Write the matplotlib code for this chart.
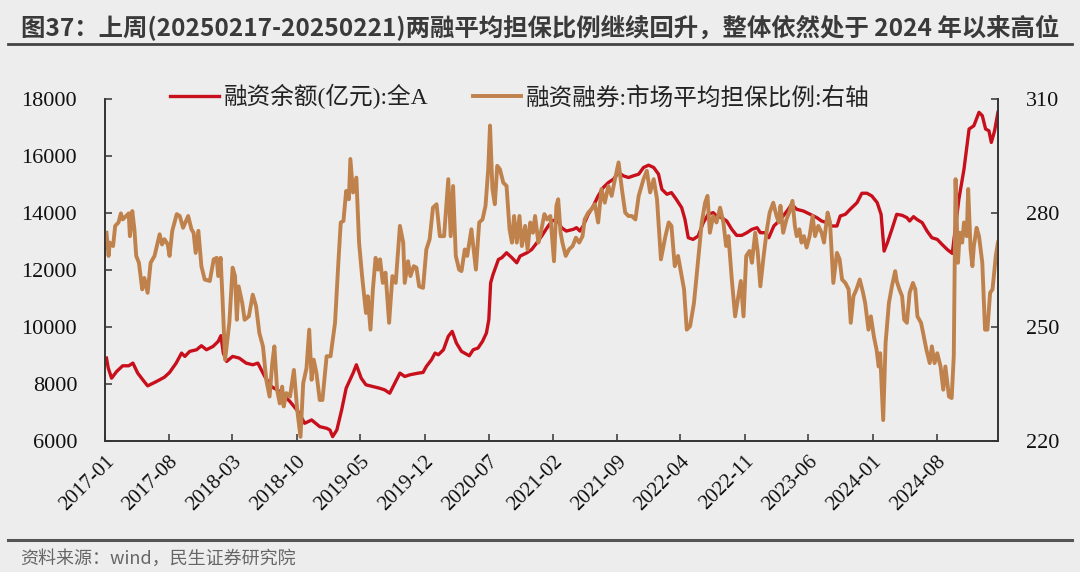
import pandas as pd
import matplotlib
matplotlib.use('Agg')
import matplotlib.pyplot as plt
import matplotlib.dates as mdates
from matplotlib.lines import Line2D

## data
margin_dates = [
    '2017-01-06', '2017-01-12', '2017-01-23', '2017-02-09', '2017-03-01', '2017-03-21', '2017-04-04',
    '2017-04-20', '2017-05-07', '2017-05-23', '2017-06-15', '2017-07-02', '2017-07-18', '2017-08-04',
    '2017-08-26', '2017-09-13', '2017-09-24', '2017-10-10', '2017-11-02', '2017-11-18', '2017-12-05',
    '2017-12-27', '2018-01-13', '2018-01-22', '2018-01-30', '2018-02-10', '2018-03-02', '2018-03-24',
    '2018-04-16', '2018-05-08', '2018-05-25', '2018-06-17', '2018-07-09', '2018-08-06', '2018-09-09',
    '2018-10-06', '2018-10-28', '2018-11-20', '2018-12-17', '2019-01-09', '2019-01-20', '2019-01-29',
    '2019-02-12', '2019-02-28', '2019-03-15', '2019-04-07', '2019-04-18', '2019-05-04', '2019-05-20',
    '2019-06-12', '2019-07-04', '2019-07-21', '2019-08-07', '2019-08-24', '2019-09-10', '2019-09-26',
    '2019-10-13', '2019-11-10', '2019-11-26', '2019-12-07', '2019-12-24', '2020-01-05', '2020-01-16',
    '2020-02-02', '2020-02-18', '2020-03-02', '2020-03-16', '2020-04-02', '2020-04-28', '2020-05-11',
    '2020-05-27', '2020-06-11', '2020-06-24', '2020-07-02', '2020-07-08', '2020-07-16', '2020-08-03',
    '2020-08-14', '2020-08-30', '2020-09-17', '2020-10-03', '2020-10-14', '2020-11-06', '2020-11-22',
    '2020-12-09', '2020-12-25', '2021-01-12', '2021-01-28', '2021-02-14', '2021-03-01', '2021-03-17',
    '2021-04-09', '2021-04-20', '2021-05-01', '2021-05-12', '2021-05-29', '2021-06-15', '2021-07-01',
    '2021-07-18', '2021-08-04', '2021-08-21', '2021-09-07', '2021-09-23', '2021-10-10', '2021-10-26',
    '2021-11-13', '2021-11-29', '2021-12-16', '2022-01-02', '2022-01-18', '2022-01-29', '2022-02-15',
    '2022-03-02', '2022-03-18', '2022-04-05', '2022-04-16', '2022-04-27', '2022-05-13', '2022-05-30',
    '2022-06-16', '2022-07-02', '2022-07-19', '2022-07-30', '2022-08-16', '2022-09-02', '2022-09-19',
    '2022-10-05', '2022-10-22', '2022-11-08', '2022-11-25', '2022-12-12', '2022-12-23', '2023-01-09',
    '2023-01-20', '2023-02-06', '2023-02-23', '2023-03-09', '2023-03-26', '2023-04-06', '2023-04-23',
    '2023-05-15', '2023-06-07', '2023-06-29', '2023-07-15', '2023-08-01', '2023-08-18', '2023-09-04',
    '2023-09-15', '2023-10-02', '2023-10-18', '2023-11-10', '2023-11-26', '2023-12-13', '2023-12-29',
    '2024-01-16', '2024-01-29', '2024-02-08', '2024-02-19', '2024-03-05', '2024-03-21', '2024-04-08',
    '2024-04-24', '2024-05-03', '2024-05-16', '2024-05-27', '2024-06-14', '2024-06-30', '2024-07-16',
    '2024-08-03', '2024-08-19', '2024-09-05', '2024-09-22', '2024-10-03', '2024-10-14', '2024-10-31',
    '2024-11-17', '2024-12-03', '2024-12-20', '2024-12-31', '2025-01-11', '2025-01-22', '2025-01-30',
    '2025-02-10', '2025-02-21']
margin_vals = [
    8909, 8557, 8205, 8440, 8639, 8639, 8733,
    8382, 8147, 7935, 8053, 8147, 8240, 8405,
    8733, 9085, 8968, 9144, 9202, 9343, 9202,
    9320, 9496, 9695, 9085, 8792, 8968, 8909,
    8733, 8674, 8733, 8264, 7912, 7736, 7384,
    7032, 6622, 6739, 6504, 6446, 6387, 6152,
    6387, 7091, 7853, 8382, 8674, 8205, 7971,
    7912, 7853, 7795, 7677, 8029, 8382, 8264,
    8323, 8382, 8405, 8616, 8850, 9085, 9026,
    9202, 9672, 9847, 9437, 9144, 8991, 9202,
    9261, 9496, 9789, 10258, 11548, 11842, 12369,
    12428, 12604, 12428, 12252, 12487, 12604, 12721,
    12956, 13191, 13484, 13718, 13777, 13484, 13366,
    13425, 13484, 13366, 13543, 13953, 14246, 14598,
    14891, 15067, 15185, 15419, 15302, 15243, 15302,
    15361, 15595, 15677, 15595, 15361, 14833, 14657,
    14715, 14481, 14188, 13777, 13132, 13073, 13191,
    13660, 13953, 14012, 13894, 13836, 13718, 13425,
    13214, 13214, 13308, 13425, 13484, 13308, 13308,
    13132, 13543, 13718, 13894, 14129, 14305, 14129,
    14070, 13953, 13836, 13718, 13660, 13543, 13543,
    13894, 13953, 14129, 14364, 14692, 14692, 14598,
    14364, 13953, 12663, 12956, 13425, 13953, 13918,
    13836, 13718, 13871, 13777, 13660, 13366, 13132,
    13073, 12897, 12721, 12581, 13543, 14481, 15536,
    16944, 17061, 17530, 17413, 16944, 16885, 16475,
    16885, 17530]

ratio_dates = [
    '2017-01-06', '2017-01-13', '2017-01-17', '2017-01-28', '2017-02-04', '2017-02-15', '2017-02-23',
    '2017-03-01', '2017-03-12', '2017-03-21', '2017-03-25', '2017-04-02', '2017-04-09', '2017-04-15',
    '2017-04-24', '2017-05-05', '2017-05-12', '2017-05-23', '2017-06-02', '2017-06-15', '2017-07-02',
    '2017-07-10', '2017-07-18', '2017-07-29', '2017-08-04', '2017-08-13', '2017-08-28', '2017-09-07',
    '2017-09-18', '2017-10-05', '2017-10-16', '2017-10-23', '2017-10-30', '2017-11-08', '2017-11-18',
    '2017-11-29', '2017-12-16', '2017-12-29', '2018-01-08', '2018-01-13', '2018-01-21', '2018-01-27',
    '2018-02-05', '2018-02-19', '2018-03-02', '2018-03-10', '2018-03-16', '2018-03-22', '2018-04-03',
    '2018-04-11', '2018-04-25', '2018-05-08', '2018-05-19', '2018-05-30', '2018-06-11', '2018-06-22',
    '2018-07-03', '2018-07-12', '2018-07-19', '2018-07-28', '2018-08-06', '2018-08-14', '2018-08-19',
    '2018-08-28', '2018-09-09', '2018-09-22', '2018-10-03', '2018-10-14', '2018-10-23', '2018-11-03',
    '2018-11-12', '2018-11-20', '2018-11-27', '2018-12-06', '2018-12-17', '2018-12-26', '2019-01-09',
    '2019-01-22', '2019-02-06', '2019-02-17', '2019-02-25', '2019-03-06', '2019-03-15', '2019-03-24',
    '2019-03-29', '2019-04-07', '2019-04-18', '2019-04-27', '2019-05-07', '2019-05-20', '2019-05-26',
    '2019-06-04', '2019-06-12', '2019-06-21', '2019-06-29', '2019-07-06', '2019-07-15', '2019-07-24',
    '2019-08-05', '2019-08-16', '2019-08-27', '2019-09-10', '2019-09-21', '2019-09-26', '2019-10-07',
    '2019-10-15', '2019-10-26', '2019-11-04', '2019-11-13', '2019-11-26', '2019-12-07', '2019-12-18',
    '2019-12-29', '2020-01-10', '2020-01-21', '2020-02-04', '2020-02-18', '2020-02-26', '2020-03-05',
    '2020-03-14', '2020-03-25', '2020-04-02', '2020-04-13', '2020-04-21', '2020-05-05', '2020-05-20',
    '2020-05-31', '2020-06-11', '2020-06-21', '2020-06-30', '2020-07-06', '2020-07-14', '2020-07-22',
    '2020-07-30', '2020-08-08', '2020-08-19', '2020-08-30', '2020-09-09', '2020-09-17', '2020-09-24',
    '2020-10-03', '2020-10-12', '2020-10-20', '2020-10-31', '2020-11-08', '2020-11-17', '2020-11-26',
    '2020-12-03', '2020-12-14', '2020-12-22', '2021-01-03', '2021-01-12', '2021-01-23', '2021-02-04',
    '2021-02-12', '2021-02-18', '2021-02-26', '2021-03-04', '2021-03-15', '2021-03-26', '2021-04-07',
    '2021-04-18', '2021-04-29', '2021-05-10', '2021-05-17', '2021-05-29', '2021-06-09', '2021-06-20',
    '2021-07-01', '2021-07-12', '2021-07-23', '2021-08-04', '2021-08-15', '2021-08-26', '2021-09-07',
    '2021-09-18', '2021-09-29', '2021-10-10', '2021-10-21', '2021-11-02', '2021-11-13', '2021-11-29',
    '2021-12-10', '2021-12-21', '2022-01-02', '2022-01-13', '2022-01-26', '2022-02-10', '2022-02-21',
    '2022-03-02', '2022-03-13', '2022-03-24', '2022-04-05', '2022-04-13', '2022-04-22', '2022-05-03',
    '2022-05-16', '2022-05-30', '2022-06-11', '2022-06-22', '2022-06-30', '2022-07-08', '2022-07-19',
    '2022-07-30', '2022-08-11', '2022-08-22', '2022-08-31', '2022-09-08', '2022-09-19', '2022-09-30',
    '2022-10-11', '2022-10-19', '2022-10-28', '2022-11-06', '2022-11-17', '2022-11-25', '2022-12-06',
    '2022-12-14', '2022-12-23', '2023-01-03', '2023-01-14', '2023-01-23', '2023-02-04', '2023-02-15',
    '2023-02-23', '2023-02-28', '2023-03-09', '2023-03-20', '2023-03-29', '2023-04-09', '2023-04-17',
    '2023-04-23', '2023-05-02', '2023-05-09', '2023-05-17', '2023-05-26', '2023-06-05', '2023-06-15',
    '2023-06-23', '2023-07-04', '2023-07-15', '2023-07-23', '2023-08-04', '2023-08-12', '2023-08-23',
    '2023-09-04', '2023-09-13', '2023-09-21', '2023-10-02', '2023-10-13', '2023-10-20', '2023-10-29',
    '2023-11-08', '2023-11-19', '2023-11-30', '2023-12-07', '2023-12-18', '2023-12-26', '2024-01-05',
    '2024-01-14', '2024-01-21', '2024-01-26', '2024-02-05', '2024-02-13', '2024-02-24', '2024-03-05',
    '2024-03-16', '2024-03-21', '2024-03-30', '2024-04-08', '2024-04-15', '2024-04-24', '2024-05-03',
    '2024-05-14', '2024-05-22', '2024-05-29', '2024-06-10', '2024-06-17', '2024-06-28', '2024-07-09',
    '2024-07-16', '2024-07-25', '2024-08-03', '2024-08-14', '2024-08-23', '2024-08-30', '2024-09-11',
    '2024-09-20', '2024-09-27', '2024-10-03', '2024-10-11', '2024-10-17', '2024-10-25', '2024-10-31',
    '2024-11-09', '2024-11-14', '2024-11-22', '2024-11-28', '2024-12-03', '2024-12-12', '2024-12-20',
    '2024-12-31', '2025-01-09', '2025-01-17', '2025-01-26', '2025-02-03', '2025-02-14', '2025-02-21']
ratio_vals = [
    274.8, 268.7, 272.2, 271.3, 276.6, 277.5, 279.9,
    278.3, 279.2, 279.9, 273.9, 280.5, 275.7, 268.7,
    266.9, 259.9, 262.9, 259.0, 266.9, 268.7, 274.4,
    271.7, 273.1, 271.7, 268.7, 275.3, 279.7, 279.2,
    276.1, 279.2, 275.7, 274.8, 269.5, 275.3, 266.0,
    262.5, 262.1, 267.8, 268.2, 263.4, 268.2, 258.1,
    241.4, 251.1, 265.6, 263.4, 251.9, 260.7, 256.3,
    251.9, 252.8, 258.5, 255.5, 248.4, 244.9, 236.1,
    231.7, 240.5, 244.9, 233.5, 229.9, 234.3, 229.1,
    232.6, 231.7, 238.7, 228.2, 221.1, 235.2, 239.2,
    249.3, 236.1, 241.4, 237.9, 230.8, 230.8, 242.3,
    242.3, 251.1, 266.9, 277.5, 277.9, 285.8, 283.6,
    294.2, 285.4, 289.3, 272.2, 263.4, 253.7, 258.1,
    249.3, 259.9, 268.2, 265.1, 267.8, 261.6, 264.3,
    251.1, 263.4, 261.6, 276.6, 272.2, 261.6, 267.3,
    263.4, 266.0, 265.6, 260.7, 260.3, 270.4, 273.1,
    281.4, 282.3, 273.9, 273.9, 288.9, 273.9, 287.1,
    268.7, 265.1, 264.7, 270.4, 268.7, 275.7, 265.1,
    277.5, 278.3, 281.9, 291.5, 303.0, 286.3, 282.3,
    292.4, 291.5, 288.0, 287.1, 275.7, 272.2, 279.2,
    272.2, 279.2, 271.3, 276.6, 270.4, 277.5, 274.8,
    279.2, 272.2, 274.8, 279.7, 278.3, 279.2, 267.3,
    281.9, 283.6, 274.8, 272.2, 268.7, 270.4, 271.3,
    273.5, 272.2, 273.9, 278.3, 280.1, 281.0, 282.3,
    277.5, 286.3, 282.7, 287.1, 284.5, 288.9, 293.3,
    286.3, 280.1, 279.2, 279.2, 278.3, 284.5, 288.9,
    291.1, 285.4, 288.9, 283.6, 267.8, 273.9, 277.5,
    276.6, 266.0, 268.7, 263.4, 259.9, 249.3, 250.2,
    256.3, 267.8, 277.5, 282.7, 284.5, 274.8, 279.2,
    277.5, 281.4, 277.5, 271.3, 273.9, 262.5, 252.8,
    258.1, 262.1, 252.8, 268.7, 270.0, 266.9, 274.8,
    270.0, 260.7, 268.7, 275.7, 280.1, 282.7, 279.2,
    277.5, 281.9, 274.8, 278.3, 280.1, 283.2, 276.6,
    273.9, 275.7, 272.2, 273.9, 270.9, 273.9, 279.2,
    273.9, 276.6, 274.8, 272.2, 280.1, 277.5, 261.6,
    269.5, 267.8, 262.5, 261.6, 259.9, 251.1, 258.1,
    259.9, 262.5, 259.0, 256.3, 249.3, 252.8, 247.5,
    244.0, 239.6, 243.1, 225.5, 245.8, 256.3, 260.7,
    264.7, 262.1, 259.9, 258.1, 251.9, 251.1, 259.0,
    261.6, 259.9, 252.8, 251.1, 248.4, 244.0, 240.5,
    244.9, 240.5, 243.1, 239.6, 233.5, 239.6, 231.7,
    231.3, 242.3, 288.9, 266.9, 274.8, 272.2, 277.5,
    273.9, 286.3, 270.4, 266.0, 271.3, 276.1, 273.9,
    266.9, 249.3, 249.3, 259.0, 259.9, 268.7, 272.2]

left_ticks = [6000, 8000, 10000, 12000, 14000, 16000, 18000]
right_ticks = [220, 250, 280, 310]
tick_months = pd.date_range('2017-01-01', periods=14, freq='7MS')

title = '图37：上周(20250217-20250221)两融平均担保比例继续回升，整体依然处于 2024 年以来高位'
source = '资料来源：wind，民生证券研究院'
label_margin = '融资余额(亿元):全A'
label_ratio = '融资融券:市场平均担保比例:右轴'

bg = '#ededed'
red = '#c8101c'
tan = '#c0824c'
serif = ['Liberation Serif', 'Noto Sans CJK SC']
plt.rcParams['font.family'] = serif

fig = plt.figure(figsize=(10.8, 5.72), dpi=100, facecolor=bg)
ax = fig.add_axes([0.0972, 0.229, 0.8268, 0.598])
ax.set_facecolor(bg)
ax2 = ax.twinx()

ax.plot(pd.to_datetime(margin_dates), margin_vals, color=red, lw=2.4, label=label_margin)
ax2.plot(pd.to_datetime(ratio_dates), ratio_vals, color=tan, lw=2.8, label=label_ratio)

ax.set_xlim(pd.Timestamp('2017-01-01'), pd.Timestamp('2025-02-21'))
ax.set_ylim(6000, 18000)
ax2.set_ylim(220, 310)
ax.set_yticks(left_ticks)
ax2.set_yticks(right_ticks)
ax.set_xticks(tick_months)
ax.xaxis.set_major_formatter(mdates.DateFormatter('%Y-%m'))

for a in (ax, ax2):
    a.spines['top'].set_visible(False)
    for s in ('left', 'right', 'bottom'):
        a.spines[s].set_color('#333333')
        a.spines[s].set_linewidth(1.2)
ax.tick_params(axis='y', direction='in', length=5, width=1.1, color='#333333',
               labelsize=16, pad=20, labelcolor='#111111')
ax2.tick_params(axis='y', direction='in', length=5, width=1.1, color='#333333',
                labelsize=16, pad=20, labelcolor='#111111')
ax.tick_params(axis='x', direction='in', length=5, width=1.1, color='#333333',
               labelsize=15, pad=8, labelcolor='#111111')
for lab in ax.get_xticklabels():
    lab.set_rotation(45)
    lab.set_ha('right')
    lab.set_rotation_mode('anchor')

h1, l1 = ax.get_legend_handles_labels()
h2, l2 = ax2.get_legend_handles_labels()
ax2.legend(h1 + h2, l1 + l2, loc='center', bbox_to_anchor=(0.465, 1.006), ncol=2,
           frameon=False, prop={'family': serif, 'size': 17}, handlelength=2.05,
           handletextpad=0.2, columnspacing=1.9, labelcolor='#222222')

## title, rules and source
fig.text(0.019, 0.951, title, fontsize=17.6, fontweight='bold', color='#3a3a3a',
         family=['Noto Sans CJK SC'], va='center', ha='left')
fig.add_artist(Line2D([0.007, 0.993], [0.923, 0.923], transform=fig.transFigure,
                      color='#444444', lw=2))
fig.add_artist(Line2D([0.007, 0.993], [0.056, 0.056], transform=fig.transFigure,
                      color='#555555', lw=2.2))
fig.text(0.019, 0.023, source, fontsize=13, color='#666666',
         family=['Noto Sans CJK SC'], va='center', ha='left')

fig.savefig('out.png', dpi=100, facecolor=bg)
